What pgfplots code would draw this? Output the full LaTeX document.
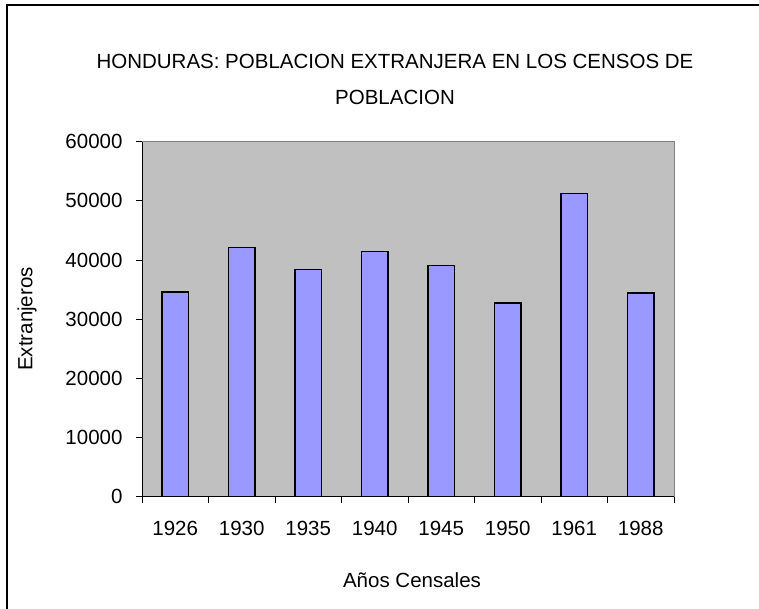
\documentclass[border=0pt]{standalone}
\usepackage{fontspec}
\setmainfont{Liberation Sans}
\usepackage{pgfplots}
\pgfplotsset{compat=1.18}
\definecolor{plotgray}{HTML}{C0C0C0}
\definecolor{barblue}{HTML}{9999FF}
\definecolor{framegray}{HTML}{808080}

\begin{document}
\begin{tikzpicture}[x=1pt,y=1pt]
\useasboundingbox (0,0) rectangle (759,609);
% outer chart frame (left and top edges visible)
\draw[line width=1.2pt] (7,0) -- (7,604) -- (759,604);

\node[align=center, font=\fontsize{20.5}{36}\selectfont] at (395,529.5)
  {HONDURAS: POBLACION EXTRANJERA EN LOS CENSOS DE\\POBLACION};
\node[rotate=90, font=\fontsize{20.5}{24}\selectfont] at (27,290) {Extranjeros};
\node[font=\fontsize{20.5}{24}\selectfont] at (412,29) {Años Censales};

\begin{axis}[
    at={(142pt,112.3pt)}, anchor=south west,
    scale only axis,
    width=532pt, height=355pt,
    axis lines=left,
    axis line style={-, black, line width=1pt},
    axis background/.style={fill=plotgray, draw=framegray, line width=1pt},
    xmin=-0.5, xmax=7.5,
    ymin=0, ymax=60000,
    xtick={0,...,7},
    xticklabels={1926,1930,1935,1940,1945,1950,1961,1988},
    major x tick style={draw=none},
    minor xtick={-0.5,0.5,...,7.5},
    minor tick length=6pt,
    ytick={0,10000,...,60000},
    major tick length=6pt,
    tick align=outside,
    tick style={black, line width=0.8pt},
    scaled y ticks=false,
    /pgf/number format/.cd, 1000 sep={}, assume math mode=true,
    /pgfplots/.cd,
    ticklabel style={font=\fontsize{20.5}{24}\selectfont},
    xticklabel style={yshift=-15pt},
    yticklabel style={xshift=-10pt},
]
\addplot[ybar, bar width=0.4, fill=barblue, draw=black, line width=1.5pt]
  coordinates {(0,34600) (1,42100) (2,38400) (3,41400) (4,39100) (5,32700) (6,51250) (7,34400)};
\end{axis}
\end{tikzpicture}
\end{document}
